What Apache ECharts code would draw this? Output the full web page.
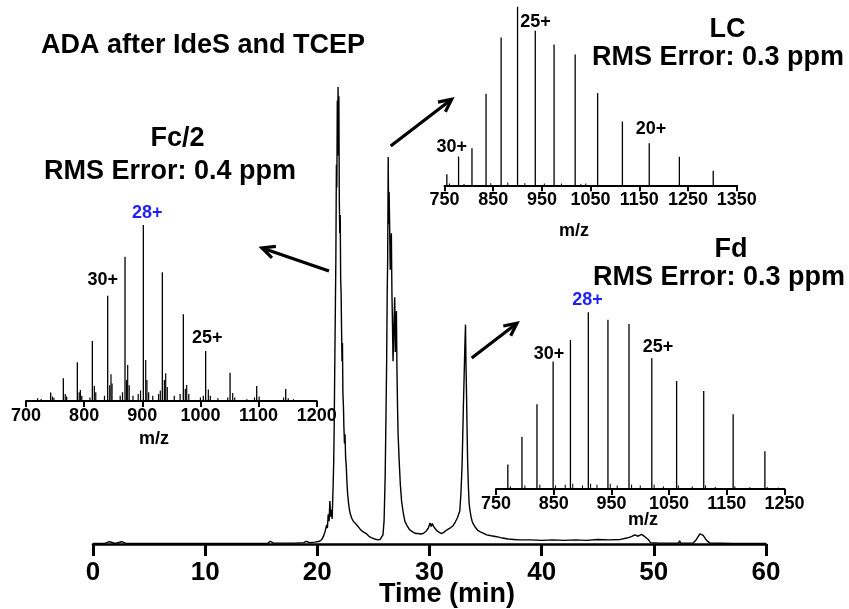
<!DOCTYPE html>
<html><head><meta charset="utf-8">
<script src="https://cdn.jsdelivr.net/npm/echarts@6/dist/echarts.min.js"></script>
<style>html,body{margin:0;padding:0;background:#fff}#c{width:849px;height:609px}</style>
</head><body><div id="c"></div>
<script>
// ---------- Main chromatogram ----------
const chromTime = [0,0.5,1,1.45,1.6,2,2.55,2.7,3,4,5,6,7,8,9,10,11,12,13,14,15,15.6,15.8,16.1,17,18,18.8,19,19.3,19.8,20.2,
20.4,20.53,20.7,20.83,20.9,20.97,21.05,21.12,21.18,21.25,21.32,21.4,21.46,21.5,21.55,21.6,21.65,21.7,21.74,21.78,21.82,21.85,21.88,21.92,21.96,
22.0,22.04,22.08,22.12,22.16,22.2,22.24,22.28,22.33,22.37,22.42,22.47,22.52,22.58,22.63,22.7,22.78,22.86,22.95,23.06,23.2,23.35,23.5,23.65,23.8,
24.0,24.2,24.4,24.6,24.8,25.1,25.4,25.6,25.75,25.85,25.95,26.05,26.12,26.18,26.23,26.27,26.3,26.32,26.36,26.4,26.45,26.5,26.55,26.6,26.65,26.7,
26.75,26.8,26.85,26.9,26.95,27.0,27.05,27.1,27.15,27.2,27.3,27.4,27.51,27.65,27.8,28.0,28.2,28.4,28.6,28.8,29.0,29.2,29.44,29.7,29.9,30.05,30.15,
30.25,30.35,30.5,30.7,30.9,31.1,31.3,31.5,31.7,31.9,32.1,32.3,32.5,32.7,32.8,32.9,32.95,33.02,33.08,33.12,33.16,33.21,33.25,33.3,33.35,33.4,33.46,
33.53,33.6,33.7,33.8,33.9,34.1,34.3,34.5,34.78,35.1,35.5,36,36.5,37,37.5,38,39,40,41,42,43,44,45,46,47,47.6,48,48.3,48.6,48.9,49.2,49.5,49.7,
50.5,51.5,52.2,52.3,52.4,53.5,53.8,54.1,54.4,54.7,55,56,57,58,59,60];
const chromSignal = [0.1,0.1,0.1,0.5,0.1,0.1,0.5,0.1,0.1,0.1,0.1,0.1,0.1,0.1,0.1,0.1,0.1,0.1,0.1,0.1,0.1,0.2,0.6,0.2,0.2,0.2,0.3,0.6,0.3,0.4,0.6,
1.0,1.6,2.8,4.2,3.5,6.5,5.0,9.4,6.0,7.5,5.5,12,18,25,38,50,62,83,78,97,92,100,85,98,75,
68,72,58,55,47,40,44,33,30,25.5,22,24,19,17,14,11,9,7.5,6.5,5.7,5,4.6,4.2,3.9,3.3,
2.8,2.5,2.2,1.7,1.4,1.1,0.9,1.0,1.2,2.0,5,15,28,40,55,62,75,84.7,70,77,69,60,64,68,55,48,
40,45,50,54,42,45,51,38,30,24,18,13,9.4,7,5,4,3.2,2.8,2.5,2.3,2.3,2.2,2.3,2.8,3.5,4.6,3.8,
4.5,3.9,3.4,2.8,2.5,2.3,2.6,3.0,3.3,3.6,4.0,4.8,5.8,7.2,11,17,22,30,36,40,44,48,40,33,25,18,13,
9,7.5,6,5,4.4,3.6,3.0,2.7,2.4,2.0,1.8,1.6,1.3,1.1,1.0,0.9,0.9,0.8,0.9,0.8,0.9,0.8,1.0,0.9,1.0,1.3,1.6,2.0,1.7,2.1,1.6,1.0,0.3,
0.2,0.2,0.2,0.7,0.2,0.2,1.0,2.2,1.9,0.8,0.2,0.15,0.1,0.1,0.1,0.1];
const timeTicks = [0,10,20,30,40,50,60];

// ---------- Fc/2 spectrum ----------
const fc2Mz  = [742.4,764.2,788.3,814.1,840.5,870.3,901.8,934.5,970.6,1009,1051,1096.8,1146.7];
const fc2Int = [4.9,12.9,22,34.1,59.8,82,100,73.1,49.3,28.4,16.1,8.5,6.8];
const fc2MinorMz  = [720,726,745.5,748,767.5,770,791.5,793.5,796,810,817.5,820,835,844,846.2,848,862,866,873,874.9,877.5,884,893,897,905.9,908,911,918,928,931,938,940.3,943,955,965,974,976.4,980,1000,1005,1013.6,1017,1030,1047,1055.5,1059,1080,1093,1101,1143,1151,1160];
const fc2MinorInt = [1.5,1.2,2.5,1.8,4,2.5,5,6.3,3,2,8.5,5,3,9,15.2,10,3,5,12,20.5,9,3,4,6,23.3,12,5,3,4,6,12,15.7,8,3,4,7,9.1,4,2,3,6.6,3,1.5,2,4.5,2,1,2,2.5,2,1.5,1];
const fc2Ticks = [700,800,900,1000,1100,1200];

// ---------- LC spectrum ----------
const lcMz  = [754.8,778.9,806.4,835.3,866.3,900,936.4,975,1018.3,1064.4,1115.3,1170.4,1232.3,1301.8];
const lcInt = [6.2,16.1,20.7,51.2,82.8,100,86.5,78.8,73.2,51.6,35.7,23.5,16,8.1];
const lcMinorMz  = [760,790,845,880,915,955,990,1030,1040];
const lcMinorInt = [1,0.8,1.2,1.5,1.2,1,1,0.8,1];
const lcTicks = [750,850,950,1050,1150,1250,1350];

// ---------- Fd spectrum ----------
const fdMz  = [770.5,795,821,849,879,910,944,980.5,1020,1063,1110,1161,1216];
const fdInt = [13.9,29.4,48,72.1,84.4,100,95.8,93.4,74,61.1,55.4,42.3,21.4];
const fdMinorMz  = [775,800,826,853,870,883,900,914,925,948,960,985,1000,1024,1040,1066,1090,1113,1130,1164,1190,1220,1240];
const fdMinorInt = [1.5,2,2.5,2,2.5,3,2,3,2.5,3,2,2.5,2,2.5,1.5,2,1.5,2,1.2,1.5,1,1.2,0.8];
const fdTicks = [750,850,950,1050,1150,1250];

const FONT = '"Liberation Sans", Arial, Helvetica, sans-serif';
const pairs = (xs, ys) => xs.map((x, i) => [x, ys[i]]);
const plain = v => String(v);

function sticks(idx, data, width) {
  return {
    type: 'custom', xAxisIndex: idx, yAxisIndex: idx, data, silent: true, animation: false,
    encode: { x: 0, y: 1 }, clip: false,
    renderItem: (params, api) => {
      const x = api.value(0), y = api.value(1);
      const a = api.coord([x, 0]), b = api.coord([x, y]);
      return { type: 'line', shape: { x1: a[0], y1: a[1], x2: b[0], y2: b[1] },
               style: { stroke: '#000', lineWidth: width } };
    }
  };
}
function insetX(idx, min, max, ticks) {
  return {
    type: 'value', gridIndex: idx, min, max,
    axisLine: { show: true, onZero: false, lineStyle: { color: '#000', width: 2 } },
    axisTick: { show: true, length: 6, inside: false, customValues: ticks, lineStyle: { color: '#000', width: 2 } },
    axisLabel: { customValues: ticks, formatter: plain, fontSize: 18, fontWeight: 'bold', color: '#000', margin: 6, fontFamily: FONT },
    splitLine: { show: false }
  };
}
function yHidden(idx) { return { type: 'value', gridIndex: idx, min: 0, max: 100, show: false }; }

function txt(x, y, text, size, color) {
  return { type: 'text', x, y, silent: true,
    style: { text, font: 'bold ' + size + 'px ' + FONT, fill: color || '#000',
             textAlign: 'center', textVerticalAlign: 'middle', align: 'center', verticalAlign: 'middle' } };
}
function arrow(x1, y1, x2, y2) {
  const ang = Math.atan2(y2 - y1, x2 - x1), L = 14, s = 0.45;
  const p1 = [x2 - L * Math.cos(ang - s), y2 - L * Math.sin(ang - s)];
  const p2 = [x2 - L * Math.cos(ang + s), y2 - L * Math.sin(ang + s)];
  return [
    { type: 'line', silent: true, shape: { x1, y1, x2, y2 }, style: { stroke: '#000', lineWidth: 3.2 } },
    { type: 'polyline', silent: true, shape: { points: [p1, [x2, y2], p2] }, style: { stroke: '#000', lineWidth: 3.2, fill: null } }
  ];
}

const chart = echarts.init(document.getElementById('c'), null, { renderer: 'canvas' });
chart.setOption({
  animation: false,
  backgroundColor: '#fff',
  grid: [
    { left: 93, right: 83, top: 87, bottom: 65 },
    { left: 26, width: 290.7, top: 225, height: 176 },
    { left: 444.5, width: 292.2, top: 6.7, height: 178.6 },
    { left: 496, width: 288.5, top: 312.3, height: 176.7 }
  ],
  xAxis: [
    { type: 'value', gridIndex: 0, min: 0, max: 60, interval: 10,
      axisLine: { show: true, onZero: false, lineStyle: { color: '#000', width: 2.6 } },
      axisTick: { show: true, length: 12, customValues: timeTicks, lineStyle: { color: '#000', width: 3 } },
      axisLabel: { customValues: timeTicks, formatter: plain, fontSize: 26, fontWeight: 'bold', color: '#000', margin: 16, fontFamily: FONT },
      splitLine: { show: false } },
    insetX(1, 700, 1200, fc2Ticks),
    insetX(2, 750, 1350, lcTicks),
    insetX(3, 750, 1250, fdTicks)
  ],
  yAxis: [yHidden(0), yHidden(1), yHidden(2), yHidden(3)],
  series: [
    { type: 'line', xAxisIndex: 0, yAxisIndex: 0, data: pairs(chromTime, chromSignal),
      showSymbol: false, symbol: 'none', silent: true, lineStyle: { color: '#000', width: 1.4 } },
    sticks(1, pairs(fc2MinorMz, fc2MinorInt), 1.2),
    sticks(1, pairs(fc2Mz, fc2Int), 1.3),
    sticks(2, pairs(lcMinorMz, lcMinorInt), 1.0),
    sticks(2, pairs(lcMz, lcInt), 1.3),
    sticks(3, pairs(fdMinorMz, fdMinorInt), 1.0),
    sticks(3, pairs(fdMz, fdInt), 1.3)
  ],
  graphic: [
    txt(203, 46, 'ADA after IdeS and TCEP', 27),
    txt(177.5, 139, 'Fc/2', 27),
    txt(170, 172, 'RMS Error: 0.4 ppm', 27),
    txt(727.5, 30, 'LC', 27),
    txt(718, 58, 'RMS Error: 0.3 ppm', 27),
    txt(731, 250, 'Fd', 27),
    txt(719, 278, 'RMS Error: 0.3 ppm', 27),
    txt(447, 595, 'Time (min)', 27),
    txt(154, 439, 'm/z', 18),
    txt(574, 231, 'm/z', 18),
    txt(643, 520, 'm/z', 18),
    txt(147.3, 212.7, '28+', 18, '#1e1eff'),
    txt(102.7, 280, '30+', 18),
    txt(207.3, 338.3, '25+', 18),
    txt(451.8, 146.8, '30+', 18),
    txt(535.6, 21.8, '25+', 18),
    txt(651, 129, '20+', 18),
    txt(587.4, 300.4, '28+', 18, '#1e1eff'),
    txt(548.9, 354, '30+', 18),
    txt(657.9, 346.6, '25+', 18),
    ...arrow(329, 271, 262, 248),
    ...arrow(390.7, 146, 451.7, 99.3),
    ...arrow(471.7, 358, 517, 323.2)
  ]
});
</script>
</body></html>
